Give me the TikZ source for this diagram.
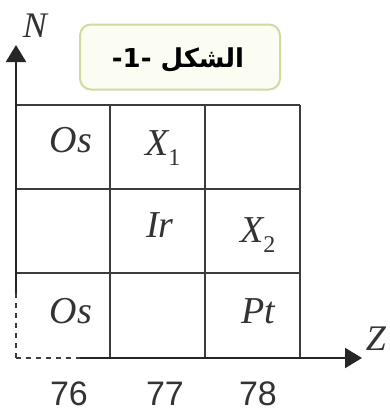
\documentclass[tikz,border=0pt]{standalone}
\usepackage{fontspec}
\setmainfont{Liberation Serif}
\newfontfamily\arabicfont[Script=Arabic]{DejaVu Sans}
\newfontfamily\numfont{Liberation Sans}
\TeXXeTstate=1
\usetikzlibrary{arrows.meta}
\definecolor{gridc}{HTML}{3C3C3C}
\definecolor{boxfill}{HTML}{FBFCF2}
\definecolor{boxdraw}{HTML}{D3D8A2}
\tikzset{
  gridline/.style={draw=gridc, line width=2.2pt},
  axisline/.style={draw=black!85, line width=2.2pt, -{Triangle[length=17pt,width=20pt]}},
  dotline/.style={draw=gridc, line width=2.2pt, dash pattern=on 5pt off 5pt},
  cell/.style={inner sep=0pt, font=\fontsize{38}{38}\selectfont\itshape, text=black!80},
  num/.style={inner sep=0pt, anchor=base, font=\fontsize{34}{34}\selectfont\numfont, text=black!80},
  axlabel/.style={inner sep=0pt, anchor=base, font=\fontsize{36}{36}\selectfont\itshape, text=black!80},
  titlebox/.style={draw=boxdraw, fill=boxfill, line width=2pt, rounded corners=11pt, minimum width=200pt, minimum height=65pt},
}
\begin{document}
\begin{tikzpicture}[x=1pt,y=-1pt]
\useasboundingbox (0,0) rectangle (389,413);
% grid coordinates
\coordinate (a0) at (16,105);  \coordinate (a3) at (300,105);
\coordinate (b0) at (16,189);  \coordinate (b3) at (300,189);
\coordinate (c0) at (16,273);  \coordinate (c3) at (300,273);
\coordinate (t1) at (110,105); \coordinate (d1) at (110,358);
\coordinate (t2) at (205,105); \coordinate (d2) at (205,358);
\coordinate (d3) at (300,358);
\coordinate (o) at (16,358);
\coordinate (dashend) at (80,358);
\coordinate (dotend) at (16,293);
\coordinate (ntip) at (16,45);
\coordinate (ztip) at (362,358);
% grid
\draw[gridline] (a0) -- (a3);
\draw[gridline] (b0) -- (b3);
\draw[gridline] (c0) -- (c3);
\draw[gridline] (t1) -- (d1);
\draw[gridline] (t2) -- (d2);
\draw[gridline] (a3) -- (d3);
% axes
\draw[dotline] (o) -- (dotend);
\draw[dotline] (o) -- (dashend);
\draw[axisline] (dotend) -- (ntip);
\draw[axisline] (dashend) -- (ztip);
% title box
\node[titlebox] (title) at (180,57) {};
\node[inner sep=0pt, font=\fontsize{26}{26}\selectfont\arabicfont\bfseries] (titletxt) at (178,60) {\beginR الشكل \beginL-1-\endL{}\endR};
% cells
\node[cell, anchor=base] (os1) at (71,152) {Os};
\node[cell, anchor=base west] (x1) at (145,155) {X\raisebox{-0.28em}{\fontsize{24}{24}\selectfont\upshape 1}};
\node[cell, anchor=base] (ir) at (160,237) {Ir};
\node[cell, anchor=base west] (x2) at (240,242) {X\raisebox{-0.28em}{\fontsize{24}{24}\selectfont\upshape 2}};
\node[cell, anchor=base] (os2) at (71,323) {Os};
\node[cell, anchor=base] (pt) at (258,323) {Pt};
% axis numbers
\node[num] (n76) at (69,405) {76};
\node[num] (n77) at (165,405) {77};
\node[num] (n78) at (258,405) {78};
% axis labels
\node[axlabel] (N) at (35,37) {N};
\node[axlabel] (Z) at (376,350) {Z};
\end{tikzpicture}
\end{document}
